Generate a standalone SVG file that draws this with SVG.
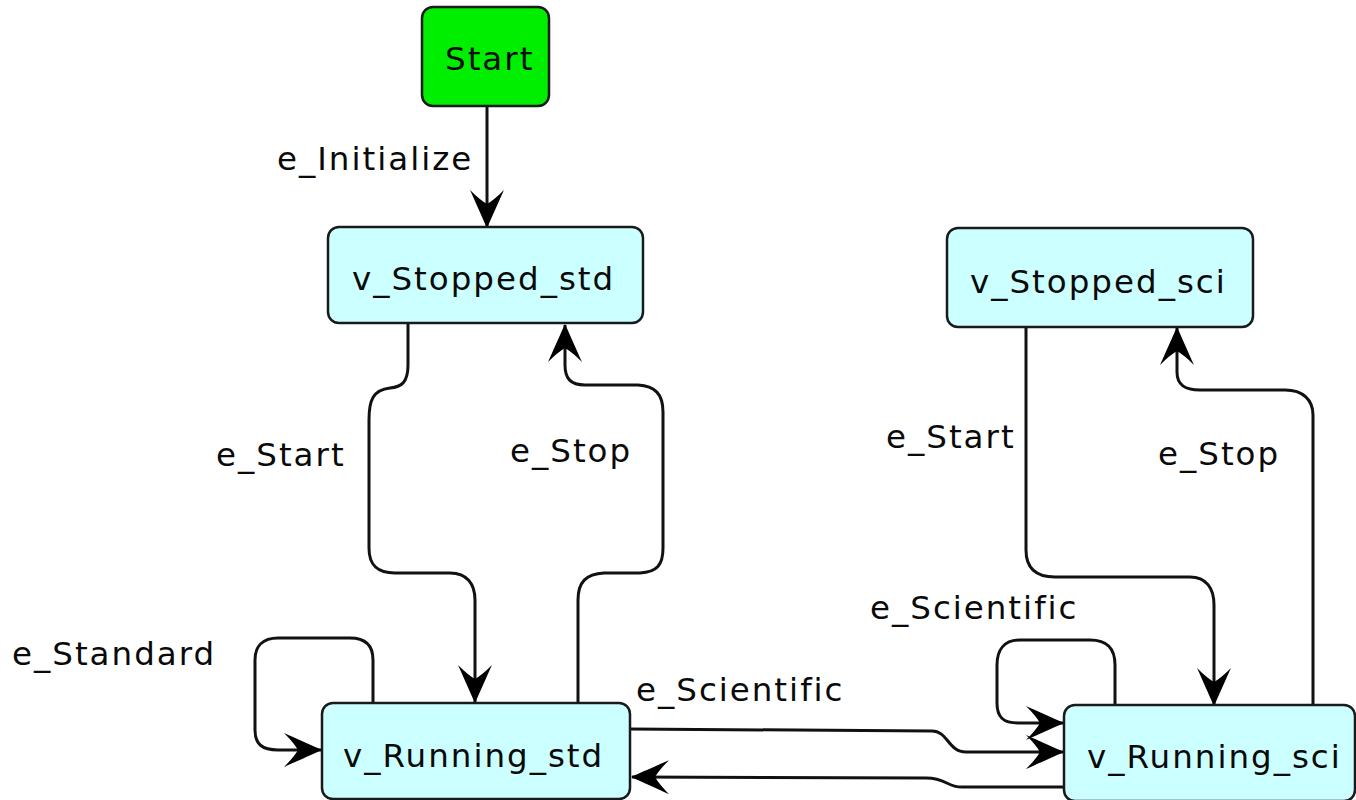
<svg xmlns="http://www.w3.org/2000/svg" width="1356" height="800" viewBox="0 0 1356 800">
<style>
.node{fill:#ccffff;stroke:#1a1a1a;stroke-width:2.5}
.start{fill:#00ee00;stroke:#1a1a1a;stroke-width:2.5}
.t{font-family:"DejaVu Sans","Liberation Sans",sans-serif;font-size:32.5px;letter-spacing:2px;fill:#0a0a0a}
.e{fill:none;stroke:#111;stroke-width:3;marker-end:url(#ah)}
</style>
<defs>
<marker id="ah" markerUnits="userSpaceOnUse" orient="auto" refX="0" refY="0" markerWidth="50" markerHeight="40" viewBox="-40 -20 50 40" overflow="visible">
<path d="M1,0 C-10,-5 -26,-12 -37,-17 Q-27,-7 -23,0 Q-27,7 -37,17 C-26,12 -10,5 1,0 Z" fill="#000"/>
</marker>
</defs>
<g id="connectors">
<path class="e" d="M487,106 L487,227"/>
<path class="e" d="M408,323 L408,365 C408,383 401,387 390,388 C373,390 369,400 369,420 L369,548 C369,565 377,573 395,573 L450,573 C467,573 475,584 475,600 L475,702"/>
<path class="e" d="M578,703 L578,600 C578,582 586,574 604,573 L640,573 C657,572 663,565 663,548 L663,412 C663,394 655,386 638,385 L585,385 C570,385 565,378 565,365 L565,325"/>
<path class="e" d="M373,703 L373,660 C373,645 365,638 350,638 L278,638 C263,638 255,646 255,660 L255,730 C255,744 262,750 278,750 L321,750"/>
<path class="e" d="M630,729 L932,731 C948,731 948,752 966,752 L1063,752"/>
<path class="e" d="M1064,787 L962,787 C946,787 947,778 926,778 L632,777"/>
<path class="e" d="M1115,705 L1115,665 C1115,648 1107,640 1090,640 L1020,640 C1004,640 997,650 997,665 L997,703 C997,717 1003,723 1018,723 L1063,723"/>
<path class="e" d="M1026,327 L1026,550 C1026,568 1036,577 1055,577 L1190,577 C1206,577 1214,588 1214,605 L1214,705"/>
<path class="e" d="M1313,705 L1313,415 C1313,400 1303,390 1285,390 L1200,390 C1185,390 1177,385 1177,372 L1177,328"/>
</g>
<g id="labels">
<text class="t" x="277" y="170">e_Initialize</text>
<text class="t" x="216" y="466">e_Start</text>
<text class="t" x="510" y="462">e_Stop</text>
<text class="t" x="886" y="448">e_Start</text>
<text class="t" x="1158" y="465">e_Stop</text>
<text class="t" x="12" y="665">e_Standard</text>
<text class="t" x="636" y="701">e_Scientific</text>
<text class="t" x="870" y="619">e_Scientific</text>
</g>
<g id="n_start">
<rect class="start" x="422" y="7" width="127" height="99" rx="11"/>
<text class="t" x="445" y="70">Start</text>
</g>
<g id="n_stopped_std">
<rect class="node" x="328" y="227" width="315" height="96" rx="11"/>
<text class="t" x="352" y="290">v_Stopped_std</text>
</g>
<g id="n_stopped_sci">
<rect class="node" x="947" y="228" width="306" height="99" rx="11"/>
<text class="t" x="970" y="293">v_Stopped_sci</text>
</g>
<g id="n_running_std">
<rect class="node" x="322" y="703" width="308" height="96" rx="11"/>
<text class="t" x="343" y="767">v_Running_std</text>
</g>
<g id="n_running_sci">
<rect class="node" x="1064" y="705" width="291" height="96" rx="11"/>
<text class="t" x="1087" y="768">v_Running_sci</text>
</g>
</svg>
